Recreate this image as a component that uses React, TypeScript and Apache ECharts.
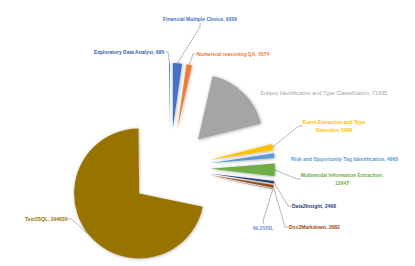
import React, { useEffect, useRef } from "react";
import * as echarts from "echarts";

// ---- data ----
const categories = [
  "Financial Multiple Choice",
  "Numerical reasoning QA",
  "Subject Identification and Type Classification",
  "Event Extraction and Type Detection",
  "Risk and Opportunity Tag Identification",
  "Multimodal Information Extraction",
  "Data2Insight",
  "Doc2Markdown",
  "NL2VISL",
  "Text2SQL",
  "Exploratory Data Analysi",
];
const values = [9300, 5574, 71935, 5986, 4968, 12947, 2498, 2682, 600, 294830, 695];

// ---- styles / layout ----
const sliceColors = ["#4472C4", "#ED7D31", "#A5A5A5", "#FFC000", "#5B9BD5", "#70AD47", "#264478", "#9E480E", "#636363", "#997300", "#255E91"];
const labelColors = ["#4472C4", "#ED7D31", "#A5A5A5", "#FFC000", "#5B9BD5", "#70AD47", "#264478", "#9E480E", "#6F8FD6", "#997300", "#2F5FAE"];
const labelPos = [
  { x: 200, y: 19, align: "center" },
  { x: 197, y: 54, align: "left" },
  { x: 260, y: 93, align: "left" },
  { x: 334, y: 126, align: "center" },
  { x: 291, y: 159, align: "left" },
  { x: 342, y: 179, align: "center" },
  { x: 292, y: 206, align: "left" },
  { x: 289, y: 227, align: "left" },
  { x: 253, y: 228, align: "left" },
  { x: 25, y: 219, align: "left" },
  { x: 164, y: 52, align: "right" },
];
const labelSize = [5, 5, 5.5, 5, 5, 5, 5, 5, 5, 5, 5];
const hideLine = [false, false, true, false, true, false, false, false, false, false, false];
const normalWeight = [false, false, true, false, false, false, false, false, false, false, false];
const CENTER = [170, 168];
const RADIUS = 65;
const EXPLODE = 40;

function labelText(i: number): string {
  const name = categories[i];
  if (name === "NL2VISL") return name;
  let t = name + ", " + values[i];
  if (name.indexOf("Event Extraction") === 0) t = t.replace(" Detection", "\nDetection");
  if (name.indexOf("Multimodal") === 0) t = t.replace(", ", ",\n");
  return t;
}

export default function App() {
  const ref = useRef<HTMLDivElement>(null);
  useEffect(() => {
    if (!ref.current) return;
    const chart = echarts.init(ref.current, undefined, { renderer: "svg" });
    const total = values.reduce((a, b) => a + b, 0);
    let cum = 0;
    const series: any[] = values.map((v, i) => {
      const before = cum;
      const after = total - cum - v;
      cum += v;
      const mid = ((before + v / 2) / total) * Math.PI * 2;
      const cx = CENTER[0] + EXPLODE * Math.sin(mid);
      const cy = CENTER[1] - EXPLODE * Math.cos(mid);
      const filler = {
        itemStyle: { color: "rgba(0,0,0,0)", shadowBlur: 0, shadowColor: "rgba(0,0,0,0)" },
        label: { show: false },
        labelLine: { show: false },
      };
      return {
        type: "pie",
        center: [cx, cy],
        radius: [0, RADIUS],
        startAngle: 90,
        clockwise: true,
        silent: true,
        avoidLabelOverlap: false,
        emphasis: { disabled: true },
        minAngle: 0,
        data: [
          { value: before, name: "_b" + i, ...filler },
          {
            value: v,
            name: categories[i],
            itemStyle: {
              color: sliceColors[i],
              shadowBlur: 3,
              shadowColor: "rgba(0,0,0,0.35)",
              shadowOffsetX: 0.5,
              shadowOffsetY: 0.5,
            },
            label: {
              show: true,
              formatter: () => labelText(i),
              color: labelColors[i],
              fontFamily: "Liberation Sans",
              fontSize: labelSize[i],
              lineHeight: 8,
              fontWeight: normalWeight[i] ? "normal" : "bold",
            },
            labelLine: {
              show: !hideLine[i],
              length: 4,
              length2: 4,
              lineStyle: { color: "#A6A6A6", width: 0.8 },
            },
          },
          { value: after, name: "_a" + i, ...filler },
        ],
        labelLayout: (p: any) => {
          if (p.dataIndex !== 1) return {};
          const lp = labelPos[i];
          return { x: lp.x, y: lp.y, align: lp.align, verticalAlign: "middle" };
        },
      };
    });
    chart.setOption({
      animation: false,
      backgroundColor: "#FFFFFF",
      series,
    });
    return () => chart.dispose();
  }, []);
  return (
    <div
      ref={ref}
      style={{ position: "fixed", left: 0, top: 0, width: 415, height: 266 }}
    />
  );
}
